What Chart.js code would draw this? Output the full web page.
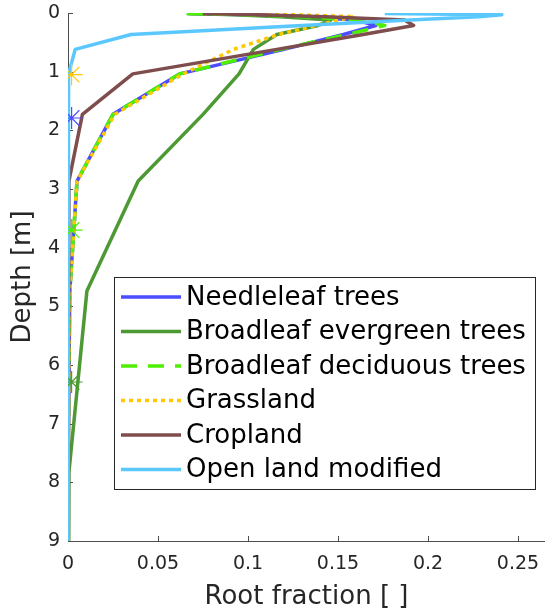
<!DOCTYPE html>
<html>
<head>
<meta charset="utf-8">
<title>Root fraction profiles</title>
<script src="https://cdn.jsdelivr.net/npm/chart.js@4.4.1/dist/chart.umd.min.js"></script>
<style>
  html, body { margin: 0; padding: 0; background: #fff; overflow: hidden; }
  canvas { display: block; }
</style>
</head>
<body>
<canvas id="rootChart" width="545" height="610"></canvas>
<script>
// node depth of each soil layer [m]
const depths = [0.0071, 0.0279, 0.0623, 0.1189, 0.2122, 0.3661, 0.6198, 1.0380, 1.7276, 2.8646, 4.7392, 7.8298, 12.9253];

// root fraction per layer
const needleleaf         = [0.067, 0.100, 0.130, 0.160, 0.171, 0.153, 0.120, 0.062, 0.025, 0.005, 0.001, 0.0, 0.0];
const broadleafEvergreen = [0.066, 0.093, 0.118, 0.146, 0.139, 0.116, 0.103, 0.095, 0.075, 0.039, 0.0105, 0.0005, 0.0];
const broadleafDeciduous = [0.066, 0.098, 0.132, 0.162, 0.176, 0.155, 0.118, 0.062, 0.025, 0.005, 0.001, 0.0, 0.0];
const grassland          = [0.075, 0.123, 0.159, 0.151, 0.138, 0.117, 0.092, 0.064, 0.026, 0.005, 0.001, 0.0, 0.0];
const cropland           = [0.075, 0.104, 0.143, 0.187, 0.192, 0.164, 0.116, 0.036, 0.008, 0.0005, 0.0, 0.0, 0.0];
const openLand           = [0.176, 0.241, 0.228, 0.190, 0.130, 0.035, 0.004, 0.0003, 0.0, 0.0, 0.0, 0.0, 0.0];

const seriesNames  = ['Needleleaf trees', 'Broadleaf evergreen trees', 'Broadleaf deciduous trees', 'Grassland', 'Cropland', 'Open land modified'];
const seriesValues = [needleleaf, broadleafEvergreen, broadleafDeciduous, grassland, cropland, openLand];
const seriesColors = ['#4d4dff', '#4d9933', '#4df000', '#ffc800', '#7f4d4d', '#5ac8ff'];
const seriesDash   = [[], [], [16, 11], [4, 4], [], []];

// rooting depth markers
const rootDepthTypes = ['Grassland', 'Needleleaf trees', 'Broadleaf deciduous trees', 'Broadleaf evergreen trees'];
const rootDepths     = [1.05, 1.79, 3.70, 6.29];
const rootDepthX     = [0.002, 0.002, 0.002, 0.002];

const xTicks = [0, 0.05, 0.1, 0.15, 0.2, 0.25];
const xTickLabels = ['0', '0.05', '0.1', '0.15', '0.2', '0.25'];
const yTicks = [0, 1, 2, 3, 4, 5, 6, 7, 8, 9];

const fontFamily = '"DejaVu Sans", Verdana, sans-serif';
const textColor = '#262626';
const axisColor = '#4d4d4d';

const datasets = seriesNames.map((name, i) => ({
    label: name,
    data: depths.map((d, k) => ({ x: seriesValues[i][k], y: d })),
    borderColor: seriesColors[i],
    backgroundColor: seriesColors[i],
    borderWidth: 3.5,
    borderDash: seriesDash[i],
    borderJoinStyle: 'round',
    pointRadius: 0,
    fill: false,
    order: seriesNames.length - i
}));

rootDepths.forEach((d, i) => {
    const c = seriesColors[seriesNames.indexOf(rootDepthTypes[i])];
    datasets.push({
        label: rootDepthTypes[i] + ' rooting depth',
        data: [{ x: rootDepthX[i], y: d }],
        showLine: false,
        pointStyle: 'star',
        pointRadius: 11,
        borderWidth: 1.2,
        borderColor: c,
        backgroundColor: c,
        order: 0,
        isMarker: true
    });
});

// small tick marks pointing into the plot
const inwardTicks = {
    id: 'inwardTicks',
    beforeDatasetsDraw(chart) {
        const { ctx, chartArea, scales: { x, y } } = chart;
        ctx.save();
        ctx.strokeStyle = axisColor;
        ctx.lineWidth = 1;
        ctx.beginPath();
        x.ticks.forEach(t => {
            const px = Math.round(x.getPixelForValue(t.value)) + 0.5;
            ctx.moveTo(px, chartArea.bottom);
            ctx.lineTo(px, chartArea.bottom - 5);
        });
        y.ticks.forEach(t => {
            const py = Math.round(y.getPixelForValue(t.value)) + 0.5;
            ctx.moveTo(chartArea.left, py);
            ctx.lineTo(chartArea.left + 5, py);
        });
        ctx.stroke();
        ctx.restore();
    }
};

// boxed legend sitting inside the plot
const boxLegend = {
    id: 'boxLegend',
    afterDraw(chart) {
        const { ctx, chartArea } = chart;
        const left = chartArea.left + 46, top = 277, right = 535, bottom = 489;
        const rowH = 34.5;
        ctx.save();
        ctx.fillStyle = '#ffffff';
        ctx.fillRect(left, top, right - left, bottom - top);
        ctx.strokeStyle = textColor;
        ctx.lineWidth = 1;
        ctx.strokeRect(left + 0.5, top + 0.5, right - left, bottom - top);
        ctx.font = '26px ' + fontFamily;
        ctx.textBaseline = 'middle';
        ctx.textAlign = 'left';
        chart.data.datasets.filter(ds => !ds.isMarker).forEach((ds, i) => {
            const yy = top + 20 + i * rowH;
            ctx.beginPath();
            ctx.strokeStyle = ds.borderColor;
            ctx.lineWidth = ds.borderWidth;
            ctx.setLineDash(ds.borderDash);
            ctx.moveTo(left + 7, yy);
            ctx.lineTo(left + 67, yy);
            ctx.stroke();
            ctx.setLineDash([]);
            ctx.fillStyle = '#000000';
            ctx.fillText(ds.label, left + 72, yy + 1);
        });
        ctx.restore();
    }
};

const ctx = document.getElementById('rootChart').getContext('2d');
const rootChart = new Chart(ctx, {
    type: 'line',
    data: { datasets: datasets },
    options: {
        responsive: false,
        animation: false,
        layout: { autoPadding: false, padding: { top: 13, right: 0, left: 0, bottom: 0 } },
        plugins: {
            legend: { display: false },
            tooltip: { enabled: false }
        },
        scales: {
            x: {
                type: 'linear',
                min: 0,
                max: 0.265,
                afterBuildTicks: s => { s.ticks = xTicks.map(v => ({ value: v })); },
                afterFit: s => { s.height = 69; s.paddingLeft = 0; s.paddingRight = 0; },
                grid: { display: false, drawTicks: false },
                border: { display: true, color: axisColor, width: 1 },
                ticks: {
                    padding: 12,
                    color: textColor,
                    font: { family: fontFamily, size: 19 },
                    maxRotation: 0,
                    callback: v => xTickLabels[xTicks.indexOf(v)]
                },
                title: {
                    display: true,
                    text: 'Root fraction [ ]',
                    color: textColor,
                    font: { family: fontFamily, size: 26, lineHeight: 1 },
                    padding: { top: 0, bottom: 0 }
                }
            },
            y: {
                type: 'linear',
                reverse: true,
                min: 0,
                max: 9,
                afterBuildTicks: s => { s.ticks = yTicks.map(v => ({ value: v })); },
                afterFit: s => { s.width = 68; s.paddingTop = 0; s.paddingBottom = 0; },
                grid: { display: false, drawTicks: false },
                border: { display: true, color: axisColor, width: 1 },
                ticks: {
                    padding: 8,
                    color: textColor,
                    font: { family: fontFamily, size: 19 },
                    callback: v => String(v)
                },
                title: {
                    display: true,
                    text: 'Depth [m]',
                    color: textColor,
                    font: { family: fontFamily, size: 26, lineHeight: 1 },
                    padding: { top: 10, bottom: 0 }
                }
            }
        }
    },
    plugins: [inwardTicks, boxLegend]
});
</script>
</body>
</html>
